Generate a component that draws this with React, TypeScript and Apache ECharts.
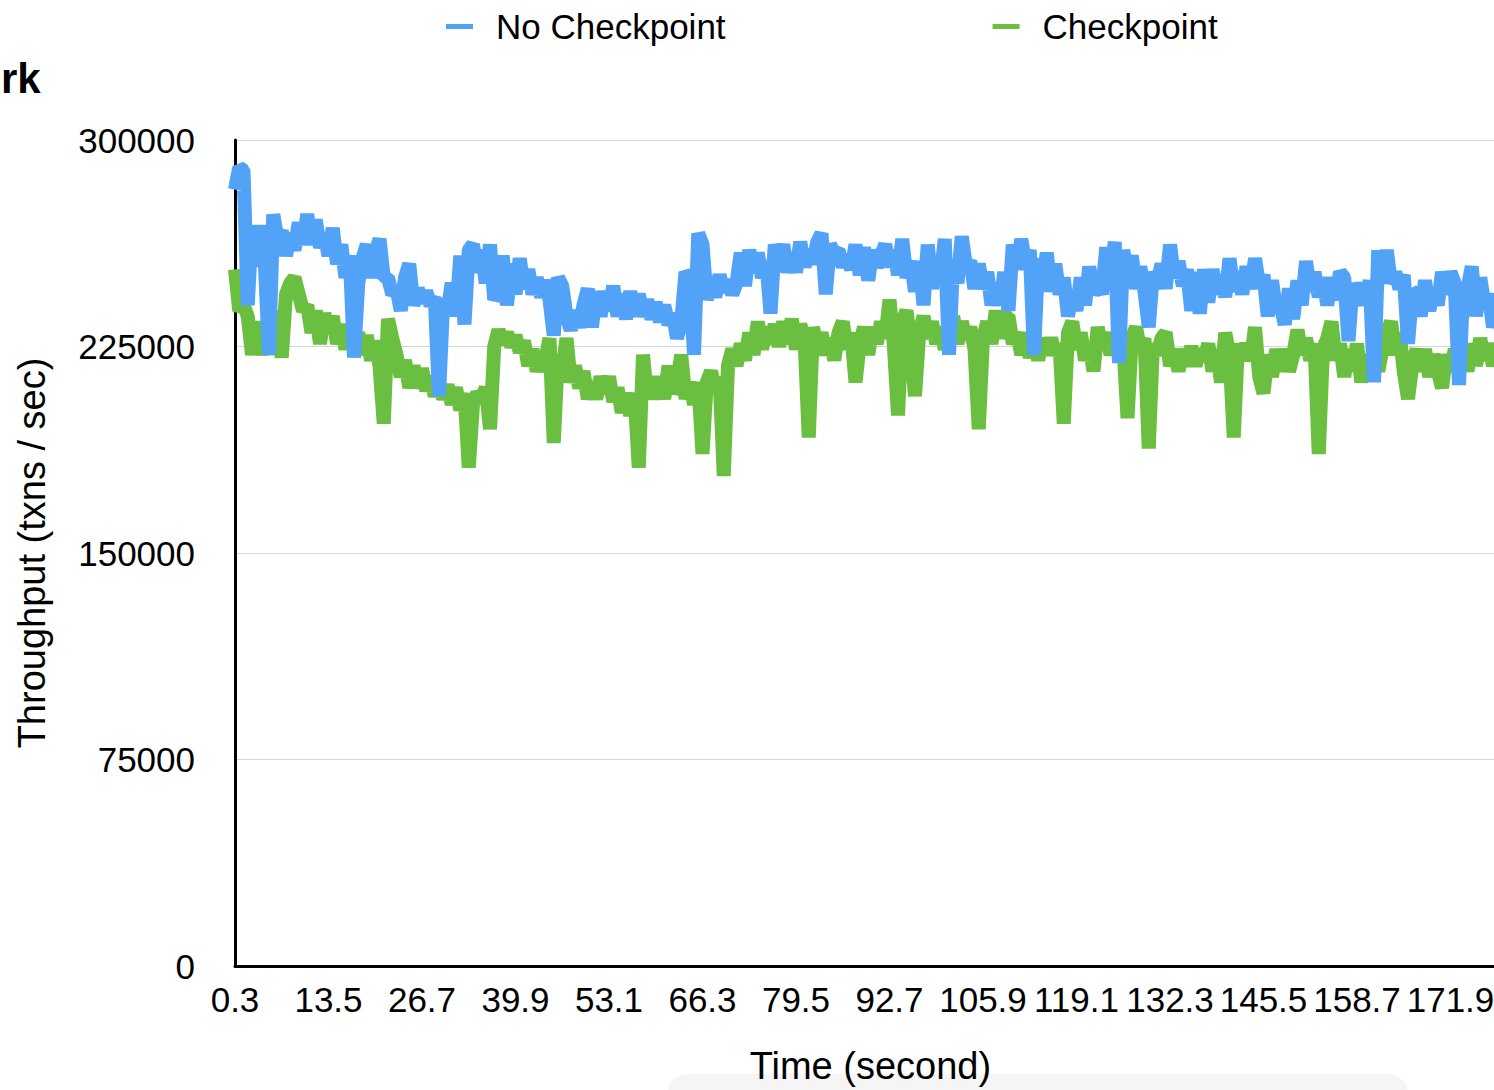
import React, { useEffect, useRef } from "react";
import * as echarts from "echarts";

// Time axis: samples every 0.6 s starting at 0.3 s
const TIME_START = 0.3;
const TIME_STEP = 0.6;
const SAMPLE_COUNT = 300;
const timeLabels: string[] = Array.from({ length: SAMPLE_COUNT }, (_, i) =>
  (TIME_START + TIME_STEP * i).toFixed(1)
);

const yTicks = { min: 0, max: 300000, interval: 75000 };

// Throughput in thousands of txns / sec
const noCheckpointK = [
  282,290,289,240,269,254,269,256,222,273,264,267,258,266,260,270,262,273,262,271,261,266,258,268,255,262,250,258,221,248,257,262,250,259,264,250,
  250,244,246,238,250,255,240,246,241,245,240,243,207,242,238,248,236,258,233,260,262,252,260,248,262,242,245,258,240,255,244,257,246,253,244,250,243,
  249,242,229,250,247,236,231,238,232,240,246,232,245,236,245,238,247,236,244,235,245,236,244,236,242,235,241,234,240,233,237,228,234,252,250,222,
  266,262,242,249,243,251,245,249,244,248,259,247,260,252,259,250,256,237,262,256,262,252,259,252,263,254,260,255,263,266,244,262,259,260,254,258,253,
  262,251,261,249,260,254,258,262,254,260,251,264,250,256,245,256,240,262,246,257,250,264,222,256,248,265,254,256,246,255,246,252,240,248,240,252,
  238,262,253,264,255,260,222,257,246,259,245,255,244,250,236,245,238,250,240,254,244,248,244,261,250,263,219,260,250,258,246,254,245,232,252,248,255,
  246,262,250,256,247,253,238,252,237,253,241,253,244,251,243,257,245,252,244,254,246,257,247,251,236,249,238,240,233,246,235,249,240,256,245,252,243,250,
  240,250,242,252,250,227,248,240,248,240,249,212,260,249,260,248,252,246,251,226,245,244,236,249,238,246,240,252,244,252,248,211,246,246,254,236,250,240,244,232,238,230,236,
];

const checkpointK = [
  253,238,240,236,222,234,222,230,235,222,238,221,244,248,250,244,238,240,230,238,226,237,230,236,226,233,224,232,225,230,222,229,220,227,218,197,
  235,228,222,214,220,210,218,210,217,209,214,207,212,206,211,204,210,202,208,181,204,208,206,210,195,225,231,226,230,225,229,223,227,218,224,216,222,
  220,228,190,222,216,228,212,218,210,216,206,212,206,214,208,214,205,210,201,208,200,208,181,222,206,214,206,214,206,218,208,212,222,206,212,204,
  212,186,212,216,209,214,178,218,224,218,226,220,230,222,234,224,232,226,233,225,234,226,235,224,233,228,192,232,224,230,222,228,220,230,234,224,230,
  212,226,232,222,232,226,234,228,242,226,200,234,238,226,207,230,236,228,234,226,232,224,230,236,226,234,228,232,224,195,228,234,226,238,228,236,
  236,226,230,222,230,221,228,220,228,222,228,222,226,197,230,234,224,230,220,226,216,232,224,230,222,228,222,226,199,228,232,224,228,188,226,222,228,
  230,218,224,216,224,218,225,218,224,220,226,216,224,212,230,222,192,226,220,226,220,232,214,208,222,214,224,216,224,216,222,231,222,228,220,226,186,224,
  228,234,220,226,214,224,216,226,212,222,216,222,216,224,230,234,222,230,216,206,218,224,216,224,214,222,216,210,222,216,224,218,224,216,226,218,228,220,226,218,225,219,224,
];

const UNIT = 1000;
const SERIES_NAMES = ["No Checkpoint", "Checkpoint"];
const BLUE = "#52A3F7";
const GREEN = "#6BBF40";
const FONT = "'Liberation Sans', Arial, Helvetica, sans-serif";

export default function App() {
  const ref = useRef<HTMLDivElement>(null);

  useEffect(() => {
    if (!ref.current) return;
    const chart = echarts.init(ref.current, null, { renderer: "svg" });
    const option: any = {
      animation: false,
      textStyle: { fontFamily: FONT },
      graphic: [
        {
          type: "rect",
          z: 0,
          shape: { x: 668, y: 1074, width: 740, height: 40, r: 20 },
          style: { fill: "#f5f5f5" },
        },
        {
          type: "text",
          x: 1,
          y: 78,
          style: {
            text: "rk",
            font: `bold 42px ${FONT}`,
            fill: "#000",
            textAlign: "left",
            textVerticalAlign: "middle",
          },
        },
      ],
      legend: {
        data: SERIES_NAMES,
        left: 441,
        top: 4,
        icon: "rect",
        itemWidth: 27,
        itemHeight: 5,
        itemGap: 267,
        textStyle: {
          fontSize: 35,
          color: "#000",
          fontFamily: FONT,
          padding: [0, 0, 0, 18],
        },
      },
      grid: {
        left: 235,
        right: 14.25,
        top: 140,
        bottom: 124,
        containLabel: false,
        outerBoundsMode: "none",
      },
      xAxis: {
        type: "category",
        data: timeLabels,
        boundaryGap: false,
        name: "Time (second)",
        nameLocation: "middle",
        nameGap: 81,
        nameTextStyle: { fontSize: 38, color: "#000", fontFamily: FONT },
        axisLine: { show: true, lineStyle: { color: "#000", width: 3 } },
        axisTick: { show: false },
        axisLabel: {
          interval: 21,
          fontSize: 35,
          color: "#000",
          margin: 16,
          fontFamily: FONT,
        },
        splitLine: { show: false },
      },
      yAxis: {
        type: "value",
        min: yTicks.min,
        max: yTicks.max,
        interval: yTicks.interval,
        name: "Throughput (txns / sec)",
        nameLocation: "middle",
        nameGap: 184,
        nameTextStyle: { fontSize: 38, color: "#000", fontFamily: FONT },
        axisLine: { show: true, lineStyle: { color: "#000", width: 3 } },
        axisTick: { show: false },
        axisLabel: {
          fontSize: 35,
          color: "#000",
          margin: 40,
          fontFamily: FONT,
          formatter: (v: number) => String(v),
        },
        splitLine: { show: true, lineStyle: { color: "#d6d6d6", width: 1 } },
      },
      series: [
        {
          name: SERIES_NAMES[1],
          type: "line",
          data: checkpointK.map((v) => v * UNIT),
          showSymbol: false,
          symbol: "none",
          color: GREEN,
          lineStyle: { color: GREEN, width: 14, join: "bevel" },
          z: 2,
        },
        {
          name: SERIES_NAMES[0],
          type: "line",
          data: noCheckpointK.map((v) => v * UNIT),
          showSymbol: false,
          symbol: "none",
          color: BLUE,
          lineStyle: { color: BLUE, width: 14, join: "bevel" },
          z: 3,
        },
      ],
    };
    chart.setOption(option);
    return () => chart.dispose();
  }, []);

  return (
    <div
      style={{
        position: "absolute",
        left: 0,
        top: 0,
        width: 1494,
        height: 1090,
        overflow: "hidden",
        background: "#fff",
      }}
    >
      <div ref={ref} style={{ width: 1520, height: 1090 }} />
    </div>
  );
}
